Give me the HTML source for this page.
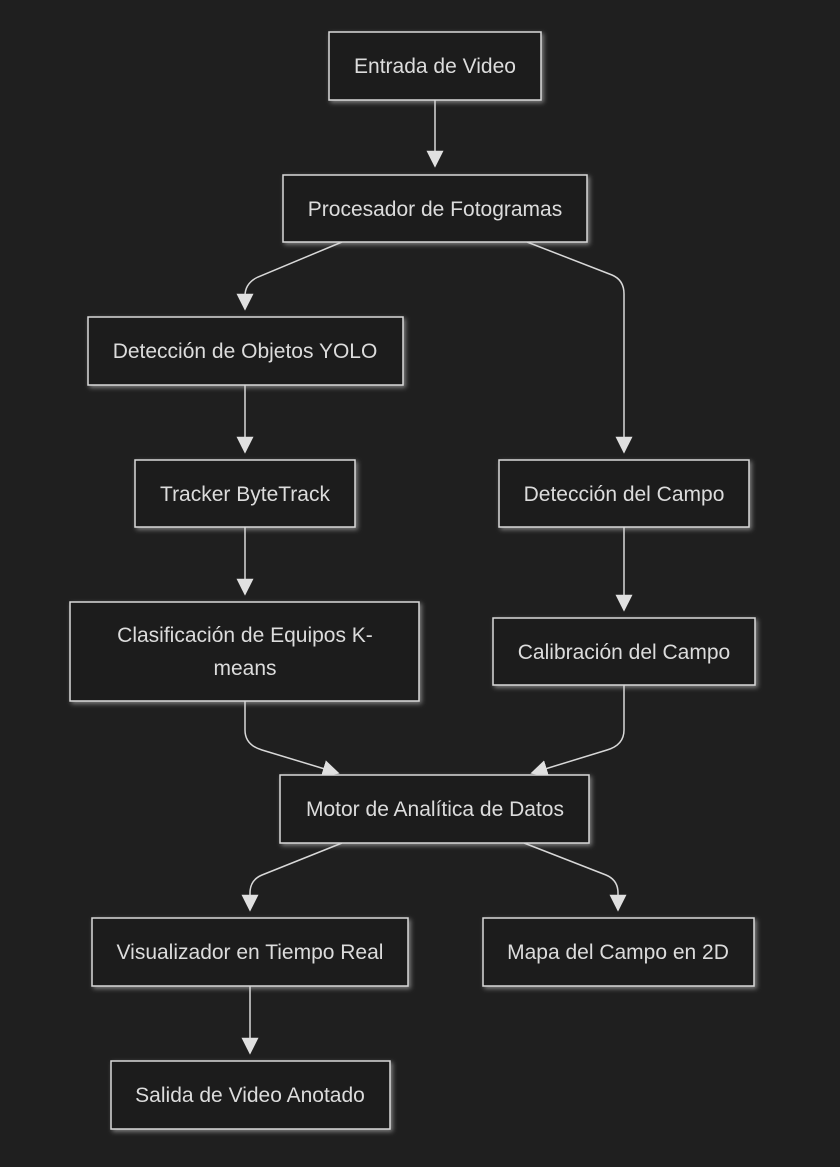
<!DOCTYPE html>
<html><head><meta charset="utf-8"><style>
body{margin:0;background:#1f1f1f;}
svg{display:block}
text{font-family:"Liberation Sans",sans-serif;font-size:21px;fill:#dcdcdc;text-anchor:middle}
.n{fill:#1f1f1f;stroke:#d8d8d8;stroke-width:1.5;filter:url(#g)}
.e{fill:none;stroke:#d8d8d8;stroke-width:1.5}
</style></head><body>
<svg width="840" height="1167" viewBox="0 0 840 1167">
<defs>
<filter id="g" x="-20%" y="-30%" width="140%" height="160%"><feDropShadow dx="2" dy="2" stdDeviation="2.5" flood-color="#cccccc" flood-opacity="0.55"/></filter>
<marker id="a" viewBox="0 0 10 10" refX="9" refY="5" markerWidth="17" markerHeight="19" markerUnits="userSpaceOnUse" orient="auto"><path d="M0,0L10,5L0,10z" fill="#e0e0e0"/></marker>
</defs>
<g class="e" marker-end="url(#a)">
<path d="M435,100V166"/>
<path d="M342,242L258,277Q245,283 245,296V309"/>
<path d="M527,242L612,275Q624,280 624,294V452"/>
<path d="M245,385V452"/>
<path d="M245,527V594"/>
<path d="M624,527V610"/>
<path d="M245,701V730Q245,745 262,750L338,773"/>
<path d="M624,685V730Q624,745 607,750L532,773"/>
<path d="M342,843L262,875Q250,880 250,893V910"/>
<path d="M524,843L606,875Q618,880 618,893V910"/>
<path d="M250,986V1053"/>
</g>
<rect class="n" x="329" y="32" width="212" height="68"/><text x="435" y="73">Entrada de Video</text>
<rect class="n" x="283" y="175" width="304" height="67"/><text x="435" y="216">Procesador de Fotogramas</text>
<rect class="n" x="88" y="317" width="315" height="68"/><text x="245" y="358">Detección de Objetos YOLO</text>
<rect class="n" x="135" y="460" width="220" height="67"/><text x="245" y="501">Tracker ByteTrack</text>
<rect class="n" x="70" y="602" width="349" height="99"/><text x="245" y="642">Clasificación de Equipos K-</text><text x="245" y="675">means</text>
<rect class="n" x="499" y="460" width="250" height="67"/><text x="624" y="501">Detección del Campo</text>
<rect class="n" x="493" y="618" width="262" height="67"/><text x="624" y="659">Calibración del Campo</text>
<rect class="n" x="280" y="775" width="309" height="68"/><text x="435" y="816">Motor de Analítica de Datos</text>
<rect class="n" x="92" y="918" width="316" height="68"/><text x="250" y="959">Visualizador en Tiempo Real</text>
<rect class="n" x="483" y="918" width="271" height="68"/><text x="618" y="959">Mapa del Campo en 2D</text>
<rect class="n" x="111" y="1061" width="279" height="68"/><text x="250" y="1102">Salida de Video Anotado</text>
</svg>
</body></html>
